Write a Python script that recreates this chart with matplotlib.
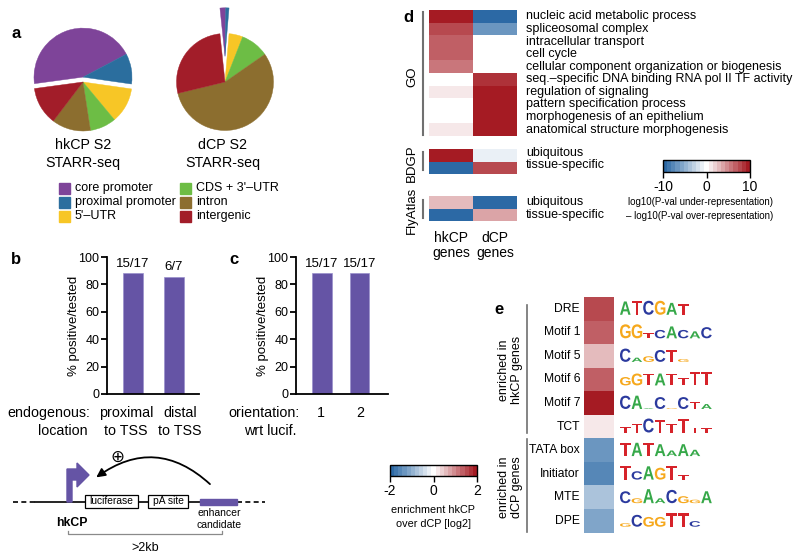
import matplotlib
matplotlib.use('Agg')
import matplotlib.pyplot as plt
import numpy as np
from matplotlib.colors import LinearSegmentedColormap, Normalize
from matplotlib.cm import ScalarMappable
from matplotlib.patches import Rectangle, Polygon, FancyArrowPatch, PathPatch
from matplotlib.textpath import TextPath
from matplotlib.font_manager import FontProperties
from matplotlib.transforms import Affine2D

plt.rcParams['font.family'] = ['Liberation Sans', 'DejaVu Sans']
plt.rcParams['axes.unicode_minus'] = False

# ---------------- data ----------------
region_names = ['core promoter', 'proximal promoter', "5'\u2013UTR",
                "CDS + 3'\u2013UTR", 'intron', 'intergenic']
region_colors = ['#7e4499', '#2b6e9e', '#f7c626', '#6dbd45', '#8c6e2f', '#a21d29']
hk_share = [44.4, 10.0, 11.7, 8.6, 12.8, 12.5]
d_share = [1.9, 1.1, 4.6, 9.4, 55.9, 27.1]

loc_cats = ['proximal\nto TSS', 'distal\nto TSS']
loc_pos = [15, 6]
loc_tested = [17, 7]
ori_cats = ['1', '2']
ori_pos = [15, 15]
ori_tested = [17, 17]

go_terms = ['nucleic acid metabolic process', 'spliceosomal complex',
            'intracellular transport', 'cell cycle',
            'cellular component organization or biogenesis',
            'seq.\u2013specific DNA binding RNA pol II TF activity',
            'regulation of signaling', 'pattern specification process',
            'morphogenesis of an epithelium', 'anatomical structure morphogenesis']
go_hk = [10, 7.3, 6.6, 6.6, 5.6, 0, 1.1, 0, 0, 1.1]
go_d = [-9.5, -6.5, 0, 0, 0, 9, 10, 10, 10, 10]
expr_terms = ['ubiquitous', 'tissue-specific']
bdgp_hk = [10, -9.5]
bdgp_d = [-1.1, 7.3]
fly_hk = [3.0, -9.5]
fly_d = [-9.5, 3.7]

motif_names = ['DRE', 'Motif 1', 'Motif 5', 'Motif 6', 'Motif 7', 'TCT',
               'TATA box', 'Initiator', 'MTE', 'DPE']
motif_enrich = [1.5, 1.3, 0.65, 1.3, 1.95, 0.2, -1.25, -1.5, -0.85, -1.05]
logo_seqs = ['ATCGAT', 'GGtCACAC', 'CagCTg', 'gGTATtTT', 'CAaCgCTA',
             'ttCTtTtt', 'TATAaAa', 'TcAGTt', 'CgAaCGgA', 'gCGGTTc']
logo_heights = [
    [.95, 1, 1, 1, .85, .75],
    [1, 1, .35, .6, .85, .6, .5, .8],
    [.95, .3, .4, .85, .85, .2],
    [.6, .85, .85, .85, .85, .55, .95, .95],
    [.95, .95, .06, .85, .06, .85, .5, .35],
    [.4, .6, 1, .9, .6, 1, .35, .3],
    [.95, .95, .95, .85, .4, .85, .45],
    [.95, .6, .95, .85, .95, .35],
    [.85, .35, 1, .35, .95, .5, .25, .85],
    [.25, .85, .7, .7, .95, .95, .4],
]

# ---------------- setup ----------------
W, H = 800, 558
fig = plt.figure(figsize=(W / 100, H / 100), dpi=100)


def px_axes(x, y, w, h):
    return fig.add_axes([x / W, 1 - (y + h) / H, w / W, h / H])


ov = px_axes(0, 0, W, H)
ov.set_xlim(0, W)
ov.set_ylim(H, 0)
ov.set_axis_off()

rdbu = LinearSegmentedColormap.from_list('rdbu', ['#2c69a5', '#ffffff', '#a51b23'])
cmap = rdbu.resampled(21)
norm10 = Normalize(-10, 10)
norm2 = Normalize(-2, 2)
bar_color = '#6554a5'
grey = '#707070'

for lab, x, y in [('a', 16, 33), ('b', 16, 260), ('c', 234, 260), ('d', 408, 17), ('e', 499, 310)]:
    ov.text(x, y, lab, fontsize=12, fontweight='bold', ha='center', va='center')

# ---------------- a: pies ----------------
ax = px_axes(28, 27, 110, 110)
wedges, _ = ax.pie(hk_share, colors=region_colors, startangle=187.7, counterclock=False)
for w in wedges:
    w.set_edgecolor(w.get_facecolor())
    w.set_linewidth(0.3)
for w in wedges[:2]:
    w.set_center((0, 0.1))
ax.set_xlim(-1.122, 1.122)
ax.set_ylim(-1.122, 1.122)
ax.set_aspect('equal')
ax.set_axis_off()

ax = px_axes(170, 0, 110, 137)
wedges, _ = ax.pie(d_share, colors=region_colors, startangle=96, counterclock=False)
for w in wedges:
    w.set_edgecolor(w.get_facecolor())
    w.set_linewidth(0.3)
for w in wedges[:2]:
    w.set_center((0, 0.53))
ax.set_xlim(-1.134, 1.134)
ax.set_ylim(-1.134, 1.691)
ax.set_aspect('equal')
ax.set_axis_off()

for x, name in [(83, 'hkCP S2'), (223, 'dCP S2')]:
    ov.text(x, 145, name, fontsize=10.3, ha='center', va='center')
    ov.text(x, 163, 'STARR-seq', fontsize=10.3, ha='center', va='center')

for i, (name, col) in enumerate(zip(region_names, region_colors)):
    cx = 59 if i < 3 else 180
    cy = 188 + 14 * (i % 3)
    ov.add_patch(Rectangle((cx, cy - 5.5), 11, 11, color=col))
    ov.text(cx + 16, cy, name, fontsize=9, va='center', ha='left')


# ---------------- b, c: bars ----------------
def bar_panel(x0, pos, tested, width, xl):
    ax = px_axes(x0, 257, 92, 137)
    vals = [100 * p / t for p, t in zip(pos, tested)]
    ax.bar(range(len(vals)), vals, width=width, color=bar_color,
           edgecolor='#9a90cc', linewidth=0.5)
    for i, (p, t, v) in enumerate(zip(pos, tested, vals)):
        ax.text(i, v + 2.5, f'{p}/{t}', ha='center', va='bottom', fontsize=9.5)
    ax.set_ylim(0, 100)
    ax.set_xlim(*xl)
    ax.set_yticks(range(0, 101, 20))
    ax.set_xticks([])
    for s in ['top', 'right']:
        ax.spines[s].set_visible(False)
    for s in ['left', 'bottom']:
        ax.spines[s].set_linewidth(1.3)
    ax.tick_params(axis='y', length=4, width=1.3, pad=1.5, labelsize=9)
    ax.set_ylabel('% positive/tested', fontsize=9.5)
    ax.yaxis.set_label_coords(-0.29, 0.5)
    ax.patch.set_alpha(0)
    return ax


bar_panel(107, loc_pos, loc_tested, 0.49, (-0.634, 1.61))
bar_panel(296, ori_pos, ori_tested, 0.53, (-0.69, 1.76))

fs_cat = 10.3
ov.text(90, 413, 'endogenous:', fontsize=fs_cat, ha='right', va='center')
ov.text(88, 431, 'location', fontsize=fs_cat, ha='right', va='center')
for x, cat in zip([126, 180], loc_cats):
    for k, line in enumerate(cat.split('\n')):
        ov.text(x, 413 + 18 * k, line, fontsize=fs_cat, ha='center', va='center')
ov.text(300, 413, 'orientation:', fontsize=fs_cat, ha='right', va='center')
ov.text(297, 431, 'wrt lucif.', fontsize=fs_cat, ha='right', va='center')
for x, cat in zip([321, 360], ori_cats):
    ov.text(x, 413, cat, fontsize=fs_cat, ha='center', va='center')

# ---------------- construct schematic ----------------
ov.plot([13, 35], [502, 502], color='black', lw=1.2, ls=(0, (3, 2)))
ov.plot([35, 237], [502, 502], color='black', lw=1.2)
ov.plot([237, 265], [502, 502], color='black', lw=1.2, ls=(0, (3, 2)))
ov.add_patch(Rectangle((85, 495), 53, 13, facecolor='white', edgecolor='black', lw=0.9, zorder=3))
ov.text(111.5, 501.5, 'luciferase', fontsize=7.4, ha='center', va='center', zorder=4)
ov.add_patch(Rectangle((148, 495), 40, 13, facecolor='white', edgecolor='black', lw=0.9, zorder=3))
ov.text(168, 501.5, 'pA site', fontsize=7.4, ha='center', va='center', zorder=4)
ov.add_patch(Rectangle((200, 499), 37, 6, color=bar_color, zorder=3))
ov.text(219, 513, 'enhancer', fontsize=7.5, ha='center', va='center')
ov.text(219, 525, 'candidate', fontsize=7.5, ha='center', va='center')
ov.add_patch(Polygon([(67, 502), (67, 469), (77, 469), (77, 463), (89, 475),
                      (77, 487), (77, 480), (72, 480), (72, 502)],
                     closed=True, color=bar_color, zorder=3))
ov.text(72, 523, 'hkCP', fontsize=8.8, fontweight='bold', ha='center', va='center')
ov.add_patch(FancyArrowPatch((212, 486), (94, 479), connectionstyle='arc3,rad=0.42',
                             arrowstyle='-|>', mutation_scale=13, lw=1.3, color='black'))
ov.text(117, 457, '\u2295', fontsize=12, ha='center', va='center')
ov.plot([68, 68, 222, 222], [531, 534, 534, 531], color='#8a8a8a', lw=0.9)
ov.text(145, 548, '>2kb', fontsize=9, ha='center', va='center')


# ---------------- d: GO heatmaps ----------------
def heat_block(y0, hk, d, terms, dy=0.0):
    ax = px_axes(429, y0, 88, 12.6 * len(hk))
    data = np.array([hk, d]).T
    ax.pcolormesh(data, cmap=cmap, norm=norm10, linewidth=0, antialiased=False)
    ax.set_xlim(0, 2)
    ax.set_ylim(len(hk), 0)
    ax.set_axis_off()
    for i, t in enumerate(terms):
        ax.text(2.2, i + 0.5 + dy, t, fontsize=9, ha='left', va='center')
    return ax


heat_block(10, go_hk, go_d, go_terms)
heat_block(149, bdgp_hk, bdgp_d, expr_terms, dy=-0.2)
heat_block(196, fly_hk, fly_d, expr_terms, dy=0.0)

for (ya, yb), name, yc in [((12, 135), 'GO', 77), ((152, 170), 'BDGP', 163), ((200, 218), 'FlyAtlas', 210)]:
    ov.plot([423, 423], [ya, yb], color=grey, lw=1.5)
    ov.text(412, yc, name, fontsize=9.5, rotation=90, ha='center', va='center')

for x, name in [(451, 'hkCP'), (495, 'dCP')]:
    ov.text(x, 238, name, fontsize=10, ha='center', va='center')
    ov.text(x, 253, 'genes', fontsize=10, ha='center', va='center')

cax = px_axes(663, 160, 87, 12)
cb = fig.colorbar(ScalarMappable(norm=norm10, cmap=cmap), cax=cax,
                  orientation='horizontal', ticks=[-10, 0, 10])
cb.outline.set_linewidth(1)
cax.tick_params(length=4, width=1, labelsize=10, pad=1.5)
ov.text(700, 202, 'log10(P-val under-representation)', fontsize=7, ha='center', va='center')
ov.text(700, 216, '\u2013 log10(P-val over-representation)', fontsize=7, ha='center', va='center')

# ---------------- e: motifs ----------------
e_top, e_rowh = 297, 23.55
ax = px_axes(584, e_top, 30, e_rowh * len(motif_enrich))
ax.pcolormesh(np.array(motif_enrich)[:, None], cmap=cmap, norm=norm2,
              linewidth=0, antialiased=False)
ax.set_xlim(0, 1)
ax.set_ylim(len(motif_enrich), 0)
ax.set_axis_off()
for i, name in enumerate(motif_names):
    ax.text(-0.13, i + 0.5, name, fontsize=8.7, ha='right', va='center')

ov.plot([527, 527], [305, 433], color=grey, lw=1.2)
ov.plot([527, 527], [439, 532], color=grey, lw=1.2)
for yc, grp in [(370, 'hkCP genes'), (487, 'dCP genes')]:
    ov.text(504, yc, 'enriched in', fontsize=9, rotation=90, ha='center', va='center')
    ov.text(517, yc, grp, fontsize=9, rotation=90, ha='center', va='center')

letter_colors = {'A': '#36a849', 'C': '#2b3a9e', 'G': '#f6a81c', 'T': '#d6232a'}
fp = FontProperties(family='Liberation Sans', weight='bold')


def draw_letter(ch, x, base, w, h, color):
    tp = TextPath((0, 0), ch, size=1, prop=fp)
    bb = tp.get_extents()
    tr = Affine2D().translate(-bb.x0, -bb.y0).scale(w / bb.width, -h / bb.height).translate(x, base)
    ov.add_patch(PathPatch(tr.transform_path(tp), facecolor=color, edgecolor='none'))


for i, (seq, hts) in enumerate(zip(logo_seqs, logo_heights)):
    base = e_top + (i + 0.5) * e_rowh + 6
    for k, (ch, hf) in enumerate(zip(seq, hts)):
        up = ch.upper()
        draw_letter(up, 620 + 11.6 * k, base, 10.6, 14 * hf, letter_colors[up])

cax = px_axes(390, 465, 87, 11)
cb = fig.colorbar(ScalarMappable(norm=norm2, cmap=cmap), cax=cax,
                  orientation='horizontal', ticks=[-2, 0, 2])
cb.outline.set_linewidth(1)
cax.tick_params(length=4, width=1, labelsize=10, pad=1.5)
ov.text(433, 510, 'enrichment hkCP', fontsize=7.8, ha='center', va='center')
ov.text(433, 524, 'over dCP [log2]', fontsize=7.8, ha='center', va='center')

fig.savefig('out.png', dpi=100)
